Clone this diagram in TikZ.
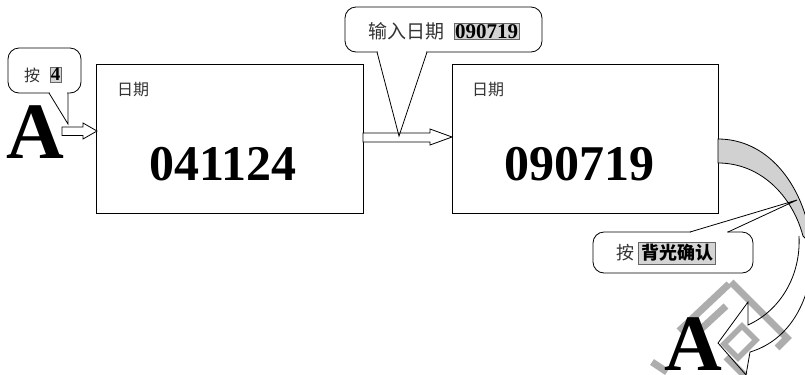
\documentclass[tikz,border=0pt]{standalone}
\usepackage{fontspec}
\setmainfont{Liberation Serif}
\newfontfamily\cjk{Noto Sans CJK SC}
\begin{document}
\begin{tikzpicture}[x=1bp,y=-1bp,
  datebox/.style={draw, line width=1bp, minimum width=266bp, minimum height=149bp, inner sep=0},
  lbl/.style={font=\cjk\fontsize{16bp}{18bp}\selectfont, text=black!80, inner sep=0},
  bignum/.style={font=\fontsize{50bp}{50bp}\selectfont\bfseries, inner sep=0},
  bigA/.style={font=\fontsize{80bp}{80bp}\selectfont\bfseries, inner sep=0, anchor=base},
  callout/.style={draw, line width=0.8bp, rounded corners=11bp, fill=white, inner sep=0},
  hl/.style={fill=black!17, draw=black!60, line width=0.5bp, inner sep=1bp},
  wm/.style={draw=black!32, line width=7bp},
  blockarrow/.style={draw, line width=0.8bp, fill=white},
  edge/.style={line width=0.8bp}]
\useasboundingbox (0,0) rectangle (805,374);
\begin{scope}
\clip (0,0) rectangle (805,374);
% watermark strokes
\draw[wm] (731,282) -- (787,338) -- (777,348);
\draw[wm] (729,284) -- (679,331);
\draw[wm] (726,306) -- (700,330);
\draw[wm, line width=5.5bp] (742,326) -- (756,340) -- (738,358) -- (724,344) -- cycle;
\draw[wm] (726,357) -- (745,376);
\draw[wm] (652,362) -- (667,372);

% date boxes
\node[datebox] (box1) at (230,138.5) {};
\node[datebox] (box2) at (585,138.5) {};
\node[lbl] (l1) at (133,90) {日期};
\node[lbl] (l2) at (488,90) {日期};
\node[bignum] (n1) at (223,164) {041124};
\node[bignum] (n2) at (579,164) {090719};

% big letters A
\node[bigA] (A1) at (35,158) {A};
\node[bigA] (A2) at (693,370) {A};

% left hollow arrow
\coordinate (la1) at (97,131);
\draw[blockarrow] (62,127) -- (83,127) -- (83,123) -- (la1) -- (83,139) -- (83,135.5) -- (62,135.5) -- cycle;

% middle hollow arrow
\coordinate (ma1) at (452,137);
\draw[blockarrow] (363,133) -- (430,133) -- (430,129) -- (ma1) -- (430,145) -- (430,142) -- (363,142) -- cycle;

% curved arrow (back, grey)
\draw[edge, fill=black!18] (718,139) .. controls (765,139) and (803,180) .. (812,245)
  -- (803,236) .. controls (792,195) and (760,163) .. (718,163) -- cycle;
% curved arrow (front band with head)
\coordinate (tip3) at (718,343);
\draw[edge, line join=miter] (799,236) .. controls (801,275) and (781,310) .. (748,325)
  -- (748,302) -- (tip3) -- (746,375) -- (750,352)
  .. controls (790,340) and (812,300) .. (813,250);

% callout 1
\node[callout, minimum width=73bp, minimum height=45bp] (c1) at (44.5,70.5) {};
\node[font=\cjk\fontsize{16bp}{18bp}\selectfont, text=black!80, inner sep=0] (c1t) at (32,75) {按};
\node[hl, font=\fontsize{19bp}{19bp}\selectfont\bfseries] (c1h) at (55.5,74.5) {4};
\fill[white] (49.8,91.5) rectangle (67.2,94.5);
\coordinate (p1) at (68,124);
\draw[edge, line join=miter] (49,93) -- (p1) -- (68,93);

% callout 2
\node[callout, minimum width=197bp, minimum height=45bp] (c2) at (443.5,29.5) {};
\node[font=\cjk\fontsize{19bp}{21bp}\selectfont, text=black!80, inner sep=0] (c2t) at (406,31) {输入日期};
\node[hl, font=\fontsize{21bp}{21bp}\selectfont\bfseries] (c2h) at (486.5,31.5) {090719};
\fill[white] (377.8,50.5) rectangle (426.2,53.5);
\coordinate (p2) at (399,136);
\draw[edge, line join=miter] (377,52) -- (p2) -- (427,52);

% callout 3
\node[callout, minimum width=160bp, minimum height=41bp] (c3) at (673,252.5) {};
\node[font=\cjk\fontsize{18bp}{20bp}\selectfont, text=black!80, inner sep=0] (c3t) at (625,253) {按};
\node[hl, font=\cjk\fontsize{18bp}{20bp}\selectfont\bfseries, inner sep=2.5bp] (c3h) at (677,253) {背光确认};
\fill[white] (690.8,230.5) rectangle (727.2,233.5);
\coordinate (p3) at (797,200);
\draw[edge, line join=miter] (690,232) -- (p3) -- (728,232);
\end{scope}
\end{tikzpicture}
\end{document}
